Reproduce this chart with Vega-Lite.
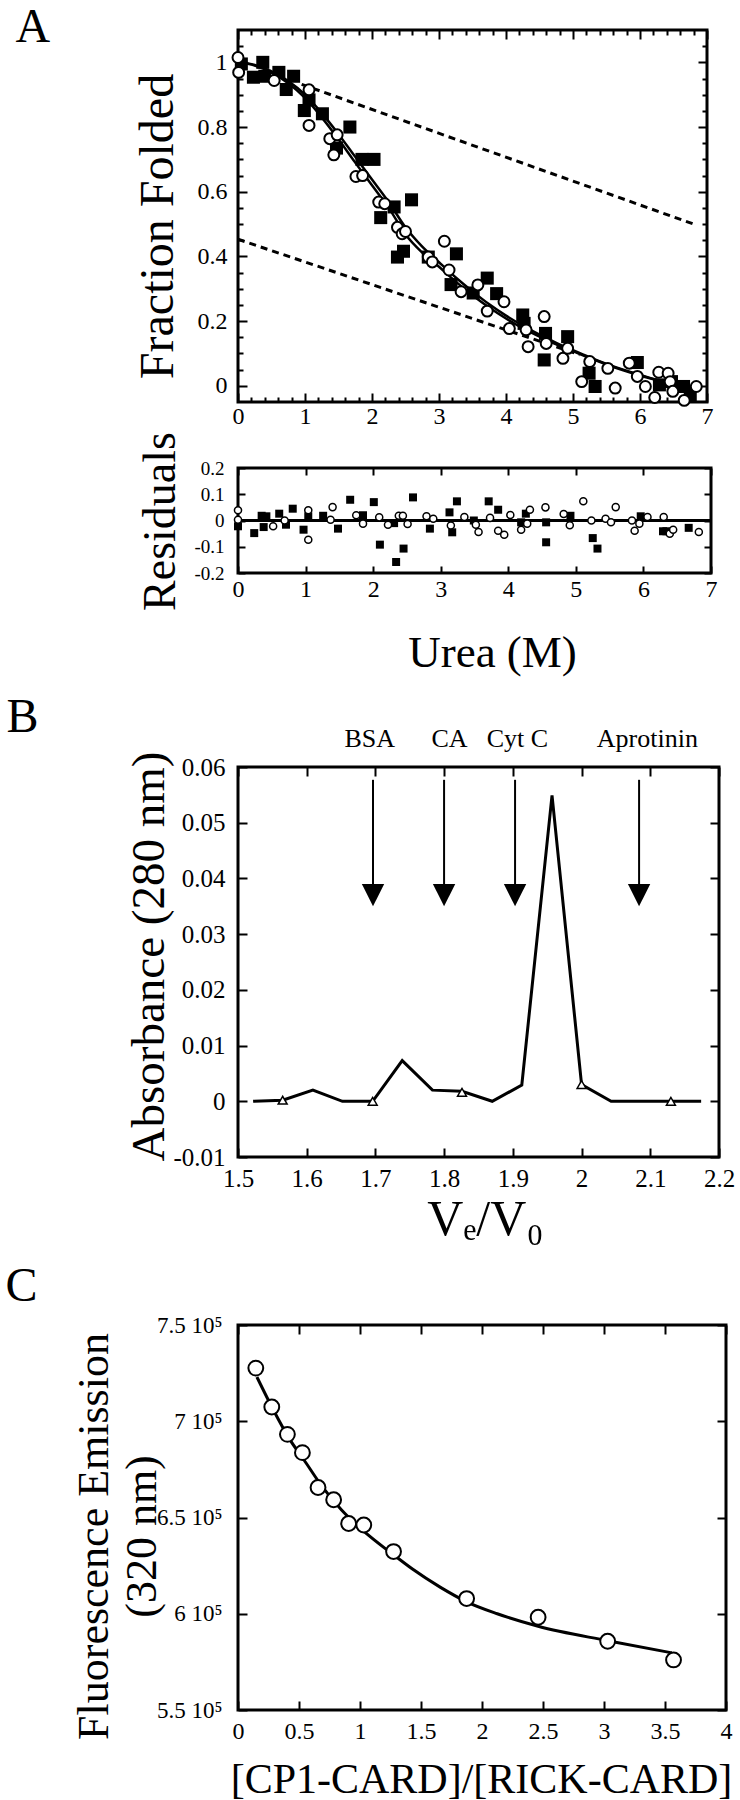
{
  "$schema": "https://vega.github.io/schema/vega-lite/v6.json",
  "background": "white",
  "padding": {"left": 3, "top": 1, "right": 4, "bottom": 0},
  "config": {
    "font": "Liberation Serif",
    "view": {"stroke": "black", "strokeWidth": 3},
    "axis": {
      "tickColor": "black", "tickWidth": 2, "tickOpacity": 1, "gridColor": "black", "gridWidth": 2, "gridOpacity": 1,
      "labelFont": "Liberation Serif", "labelColor": "black", "labelFontSize": 24, "labelOverlap": false, "labelFlush": false,
      "titleFont": "Liberation Serif", "titleFontWeight": "normal", "titleColor": "black"
    }
  },
  "datasets": {
    "a_base": [
      {"x": 0.95, "y": 0.932, "s": "u"}, {"x": 6.8, "y": 0.5, "s": "u"},
      {"x": 0, "y": 0.453, "s": "l"}, {"x": 5.1, "y": 0.096, "s": "l"}
    ],
    "a_fit": [
      {"x": 0, "y": 1.0, "s": "f1"}, {"x": 0.25, "y": 0.99, "s": "f1"}, {"x": 0.5, "y": 0.968, "s": "f1"}, {"x": 0.75, "y": 0.935, "s": "f1"},
      {"x": 1.0, "y": 0.89, "s": "f1"}, {"x": 1.25, "y": 0.83, "s": "f1"}, {"x": 1.5, "y": 0.762, "s": "f1"}, {"x": 1.75, "y": 0.69, "s": "f1"},
      {"x": 2.0, "y": 0.62, "s": "f1"}, {"x": 2.25, "y": 0.55, "s": "f1"}, {"x": 2.5, "y": 0.468, "s": "f1"}, {"x": 2.75, "y": 0.412, "s": "f1"},
      {"x": 3.0, "y": 0.368, "s": "f1"}, {"x": 3.25, "y": 0.322, "s": "f1"}, {"x": 3.5, "y": 0.28, "s": "f1"}, {"x": 3.75, "y": 0.242, "s": "f1"},
      {"x": 4.0, "y": 0.208, "s": "f1"}, {"x": 4.25, "y": 0.178, "s": "f1"}, {"x": 4.5, "y": 0.152, "s": "f1"}, {"x": 4.75, "y": 0.128, "s": "f1"},
      {"x": 5.0, "y": 0.107, "s": "f1"}, {"x": 5.25, "y": 0.086, "s": "f1"}, {"x": 5.5, "y": 0.066, "s": "f1"}, {"x": 5.75, "y": 0.048, "s": "f1"},
      {"x": 6.0, "y": 0.032, "s": "f1"}, {"x": 6.25, "y": 0.018, "s": "f1"}, {"x": 6.5, "y": 0.005, "s": "f1"}, {"x": 6.8, "y": -0.01, "s": "f1"},
      {"x": 0, "y": 1.0, "s": "f2"}, {"x": 0.25, "y": 0.992, "s": "f2"}, {"x": 0.5, "y": 0.972, "s": "f2"}, {"x": 0.75, "y": 0.942, "s": "f2"},
      {"x": 1.0, "y": 0.9, "s": "f2"}, {"x": 1.25, "y": 0.843, "s": "f2"}, {"x": 1.5, "y": 0.778, "s": "f2"}, {"x": 1.75, "y": 0.708, "s": "f2"},
      {"x": 2.0, "y": 0.638, "s": "f2"}, {"x": 2.25, "y": 0.568, "s": "f2"}, {"x": 2.5, "y": 0.49, "s": "f2"}, {"x": 2.75, "y": 0.43, "s": "f2"},
      {"x": 3.0, "y": 0.382, "s": "f2"}, {"x": 3.25, "y": 0.335, "s": "f2"}, {"x": 3.5, "y": 0.292, "s": "f2"}, {"x": 3.75, "y": 0.252, "s": "f2"},
      {"x": 4.0, "y": 0.217, "s": "f2"}, {"x": 4.25, "y": 0.186, "s": "f2"}, {"x": 4.5, "y": 0.158, "s": "f2"}, {"x": 4.75, "y": 0.133, "s": "f2"},
      {"x": 5.0, "y": 0.11, "s": "f2"}, {"x": 5.25, "y": 0.088, "s": "f2"}, {"x": 5.5, "y": 0.068, "s": "f2"}, {"x": 5.75, "y": 0.05, "s": "f2"},
      {"x": 6.0, "y": 0.034, "s": "f2"}, {"x": 6.25, "y": 0.019, "s": "f2"}, {"x": 6.5, "y": 0.006, "s": "f2"}, {"x": 6.8, "y": -0.008, "s": "f2"}
    ],
    "a_sq": [
      {"x": 0.05, "y": 0.995}, {"x": 0.23, "y": 0.954}, {"x": 0.37, "y": 1.0}, {"x": 0.4, "y": 0.957}, {"x": 0.61, "y": 0.969},
      {"x": 0.72, "y": 0.916}, {"x": 0.83, "y": 0.957}, {"x": 0.99, "y": 0.851}, {"x": 1.06, "y": 0.884}, {"x": 1.26, "y": 0.841},
      {"x": 1.47, "y": 0.735}, {"x": 1.67, "y": 0.8}, {"x": 1.85, "y": 0.7}, {"x": 2.03, "y": 0.7}, {"x": 2.13, "y": 0.52},
      {"x": 2.33, "y": 0.553}, {"x": 2.38, "y": 0.398}, {"x": 2.47, "y": 0.416}, {"x": 2.59, "y": 0.575}, {"x": 2.84, "y": 0.398},
      {"x": 3.18, "y": 0.313}, {"x": 3.26, "y": 0.408}, {"x": 3.51, "y": 0.287}, {"x": 3.72, "y": 0.333}, {"x": 3.86, "y": 0.285},
      {"x": 4.25, "y": 0.219}, {"x": 4.27, "y": 0.193}, {"x": 4.57, "y": 0.08}, {"x": 4.59, "y": 0.162}, {"x": 4.92, "y": 0.152},
      {"x": 5.24, "y": 0.039}, {"x": 5.33, "y": -0.002}, {"x": 5.96, "y": 0.072}, {"x": 6.29, "y": 0.003}, {"x": 6.47, "y": 0.013},
      {"x": 6.65, "y": -0.002}, {"x": 6.75, "y": -0.03}
    ],
    "a_ci": [
      {"x": 0.0, "y": 1.015}, {"x": 0.01, "y": 0.969}, {"x": 0.54, "y": 0.944}, {"x": 1.06, "y": 0.915}, {"x": 1.06, "y": 0.805},
      {"x": 1.37, "y": 0.764}, {"x": 1.43, "y": 0.714}, {"x": 1.48, "y": 0.776}, {"x": 1.76, "y": 0.647}, {"x": 1.86, "y": 0.65},
      {"x": 2.1, "y": 0.568}, {"x": 2.19, "y": 0.563}, {"x": 2.38, "y": 0.49}, {"x": 2.45, "y": 0.47}, {"x": 2.5, "y": 0.477},
      {"x": 2.84, "y": 0.398}, {"x": 2.9, "y": 0.383}, {"x": 3.08, "y": 0.447}, {"x": 3.15, "y": 0.358}, {"x": 3.33, "y": 0.291},
      {"x": 3.58, "y": 0.312}, {"x": 3.72, "y": 0.231}, {"x": 3.97, "y": 0.26}, {"x": 4.05, "y": 0.177}, {"x": 4.3, "y": 0.173},
      {"x": 4.33, "y": 0.121}, {"x": 4.57, "y": 0.214}, {"x": 4.6, "y": 0.131}, {"x": 4.85, "y": 0.085}, {"x": 4.92, "y": 0.116},
      {"x": 5.13, "y": 0.013}, {"x": 5.25, "y": 0.075}, {"x": 5.52, "y": 0.054}, {"x": 5.63, "y": -0.007}, {"x": 5.84, "y": 0.07},
      {"x": 5.96, "y": 0.029}, {"x": 6.08, "y": -0.002}, {"x": 6.22, "y": -0.036}, {"x": 6.28, "y": 0.042}, {"x": 6.42, "y": 0.039},
      {"x": 6.45, "y": 0.013}, {"x": 6.49, "y": -0.017}, {"x": 6.66, "y": -0.045}, {"x": 6.84, "y": -0.002}
    ],
    "r_sq": [
      {"x": 0.0, "y": -0.022}, {"x": 0.24, "y": -0.048}, {"x": 0.35, "y": 0.018}, {"x": 0.38, "y": -0.025}, {"x": 0.42, "y": 0.016},
      {"x": 0.61, "y": 0.026}, {"x": 0.71, "y": -0.016}, {"x": 0.81, "y": 0.045}, {"x": 0.97, "y": -0.035}, {"x": 1.04, "y": 0.016},
      {"x": 1.26, "y": 0.018}, {"x": 1.48, "y": -0.031}, {"x": 1.66, "y": 0.079}, {"x": 1.85, "y": 0.02}, {"x": 2.01, "y": 0.07},
      {"x": 2.1, "y": -0.092}, {"x": 2.31, "y": -0.01}, {"x": 2.34, "y": -0.158}, {"x": 2.45, "y": -0.107}, {"x": 2.59, "y": 0.088},
      {"x": 2.84, "y": -0.031}, {"x": 3.13, "y": 0.031}, {"x": 3.17, "y": -0.045}, {"x": 3.24, "y": 0.073}, {"x": 3.49, "y": 0.0},
      {"x": 3.71, "y": 0.073}, {"x": 3.85, "y": 0.041}, {"x": 4.19, "y": -0.007}, {"x": 4.26, "y": 0.026}, {"x": 4.56, "y": -0.007},
      {"x": 4.56, "y": -0.083}, {"x": 4.92, "y": 0.018}, {"x": 5.25, "y": -0.067}, {"x": 5.32, "y": -0.107}, {"x": 5.96, "y": 0.016},
      {"x": 6.29, "y": -0.041}, {"x": 6.34, "y": -0.041}, {"x": 6.67, "y": -0.028}
    ],
    "r_ci": [
      {"x": 0.0, "y": 0.039}, {"x": 0.0, "y": 0.003}, {"x": 0.52, "y": -0.022}, {"x": 0.69, "y": 0.0}, {"x": 1.04, "y": 0.039},
      {"x": 1.04, "y": -0.073}, {"x": 1.4, "y": 0.051}, {"x": 1.37, "y": 0.003}, {"x": 1.75, "y": 0.02}, {"x": 1.85, "y": -0.012},
      {"x": 2.09, "y": 0.012}, {"x": 2.22, "y": -0.016}, {"x": 2.38, "y": 0.018}, {"x": 2.44, "y": 0.018}, {"x": 2.51, "y": -0.013},
      {"x": 2.79, "y": 0.016}, {"x": 2.89, "y": 0.007}, {"x": 3.15, "y": -0.019}, {"x": 3.35, "y": 0.013}, {"x": 3.52, "y": -0.016},
      {"x": 3.56, "y": -0.044}, {"x": 3.73, "y": 0.01}, {"x": 3.85, "y": -0.039}, {"x": 3.94, "y": -0.054}, {"x": 4.03, "y": 0.021},
      {"x": 4.19, "y": -0.035}, {"x": 4.28, "y": -0.012}, {"x": 4.32, "y": 0.041}, {"x": 4.55, "y": 0.05}, {"x": 4.82, "y": 0.025},
      {"x": 4.91, "y": -0.018}, {"x": 5.11, "y": 0.073}, {"x": 5.23, "y": 0.0}, {"x": 5.44, "y": 0.007}, {"x": 5.52, "y": -0.007},
      {"x": 5.59, "y": 0.051}, {"x": 5.83, "y": 0.0}, {"x": 5.87, "y": -0.039}, {"x": 5.94, "y": -0.012}, {"x": 6.06, "y": 0.013},
      {"x": 6.3, "y": 0.013}, {"x": 6.39, "y": -0.05}, {"x": 6.44, "y": -0.035}, {"x": 6.82, "y": -0.044}
    ],
    "b_tr": [
      {"x": 1.522, "y": 0}, {"x": 1.565, "y": 0.0002}, {"x": 1.609, "y": 0.002}, {"x": 1.652, "y": 0}, {"x": 1.696, "y": 0},
      {"x": 1.739, "y": 0.0073}, {"x": 1.783, "y": 0.002}, {"x": 1.826, "y": 0.0018}, {"x": 1.87, "y": 0}, {"x": 1.913, "y": 0.0029},
      {"x": 1.957, "y": 0.0549}, {"x": 2.0, "y": 0.003}, {"x": 2.043, "y": 0}, {"x": 2.087, "y": 0}, {"x": 2.13, "y": 0}, {"x": 2.174, "y": 0}
    ],
    "b_tri": [
      {"x": 1.565, "y": 0.0002}, {"x": 1.696, "y": 0}, {"x": 1.826, "y": 0.0016}, {"x": 2.0, "y": 0.003}, {"x": 2.13, "y": 0}
    ],
    "b_arr": [
      {"x": 1.6965, "y": 0.0577, "y2": 0.039, "h": 0.037},
      {"x": 1.7999, "y": 0.0577, "y2": 0.039, "h": 0.037},
      {"x": 1.9032, "y": 0.0577, "y2": 0.039, "h": 0.037},
      {"x": 2.0837, "y": 0.0577, "y2": 0.039, "h": 0.037}
    ],
    "c_pt": [
      {"x": 0.146, "y": 727600}, {"x": 0.277, "y": 707400}, {"x": 0.405, "y": 693200}, {"x": 0.528, "y": 683700},
      {"x": 0.656, "y": 665600}, {"x": 0.784, "y": 659200}, {"x": 0.907, "y": 646900}, {"x": 1.031, "y": 646100},
      {"x": 1.275, "y": 632300}, {"x": 1.874, "y": 607900}, {"x": 2.46, "y": 598200}, {"x": 3.03, "y": 585700}, {"x": 3.57, "y": 576000}
    ],
    "c_fit": [
      {"x": 0.155, "y": 723000}, {"x": 0.289, "y": 706000}, {"x": 0.424, "y": 690600}, {"x": 0.54, "y": 680000},
      {"x": 0.695, "y": 665600}, {"x": 0.849, "y": 653900}, {"x": 1.023, "y": 643300}, {"x": 1.275, "y": 630600},
      {"x": 1.43, "y": 623200}, {"x": 1.66, "y": 613700}, {"x": 1.874, "y": 606200}, {"x": 2.125, "y": 600000},
      {"x": 2.46, "y": 593500}, {"x": 3.03, "y": 586000}, {"x": 3.556, "y": 579700}
    ]
  },
  "spacing": 14,
  "vconcat": [
    {
      "spacing": 0,
      "vconcat": [
        {
          "width": 469, "height": 372,
          "resolve": {"axis": {"x": "independent", "y": "independent"}},
          "layer": [
            {
              "data": {"name": "a_base"},
              "mark": {"type": "line", "strokeDash": [7, 5], "strokeWidth": 3, "color": "black"},
              "encoding": {
                "x": {"field": "x", "type": "quantitative", "scale": {"domain": [0, 7], "nice": false, "zero": false},
                  "axis": {"orient": "bottom", "title": null, "domain": false, "ticks": true, "tickSize": -9, "tickColor": "black", "tickOpacity": 1, "tickWidth": 2, "grid": false,
                    "labelPadding": 11, "labelOverlap": false, "labelFlush": false,
                    "values": [0,1,2,3,4,5,6,7], "labelExpr": "format(datum.value, '~g')"}},
                "y": {"field": "y", "type": "quantitative", "scale": {"domain": [-0.05, 1.1], "nice": false, "zero": false},
                  "axis": {"orient": "left", "title": "Fraction Folded", "titleFontSize": 48, "titleAngle": -90, "titleAlign": "center", "titleBaseline": "middle", "titleX": -80, "titleY": 196,
                    "domain": false, "ticks": true, "tickSize": -9, "tickColor": "black", "tickOpacity": 1, "tickWidth": 2, "grid": false,
                    "labelPadding": 20, "labelOverlap": false,
                    "values": [0,0.2,0.4,0.6,0.8,1], "labelExpr": "format(datum.value, '~g')"}},
                "detail": {"field": "s"}
              }
            },
            {
              "data": {"name": "a_fit"},
              "mark": {"type": "line", "strokeWidth": 2.5, "color": "black", "interpolate": "monotone"},
              "encoding": {
                "x": {"field": "x", "type": "quantitative",
                  "axis": {"orient": "top", "title": "A", "titleFontSize": 48, "titleAngle": 0, "titleAlign": "left", "titleBaseline": "alphabetic", "titleX": -223, "titleY": 11,
                    "labels": false, "domain": false, "grid": false, "ticks": true, "tickSize": -9, "tickColor": "black", "tickOpacity": 1, "tickWidth": 2, "values": [0,1,2,3,4,5,6,7]}},
                "y": {"field": "y", "type": "quantitative",
                  "axis": {"orient": "right", "title": null, "labels": false, "domain": false, "grid": false, "ticks": true, "tickSize": -9, "tickColor": "black", "tickOpacity": 1, "tickWidth": 2, "values": [0,0.2,0.4,0.6,0.8,1]}},
                "detail": {"field": "s"}
              }
            },
            {
              "data": {"name": "a_sq"},
              "mark": {"type": "point", "shape": "square", "filled": true, "color": "black", "size": 170, "opacity": 1},
              "encoding": {
                "x": {"field": "x", "type": "quantitative",
                  "axis": {"orient": "top", "title": null, "labels": false, "domain": false, "ticks": false, "grid": true, "gridColor": "black", "gridOpacity": 1, "gridWidth": 2, "gridDash": [5, 362, 5, 2000],
                    "values": [0.2,0.4,0.6,0.8,1.2,1.4,1.6,1.8,2.2,2.4,2.6,2.8,3.2,3.4,3.6,3.8,4.2,4.4,4.6,4.8,5.2,5.4,5.6,5.8,6.2,6.4,6.6,6.8]}},
                "y": {"field": "y", "type": "quantitative",
                  "axis": {"orient": "right", "title": null, "labels": false, "domain": false, "ticks": false, "grid": true, "gridColor": "black", "gridOpacity": 1, "gridWidth": 2, "gridDash": [5, 459, 5, 2000],
                    "values": [0.05,0.1,0.15,0.25,0.3,0.35,0.45,0.5,0.55,0.65,0.7,0.75,0.85,0.9,0.95,1.05]}}
              }
            },
            {
              "data": {"name": "a_ci"},
              "mark": {"type": "point", "shape": "circle", "filled": true, "fill": "white", "stroke": "black", "strokeWidth": 2, "size": 120, "opacity": 1},
              "encoding": {
                "x": {"field": "x", "type": "quantitative", "axis": null},
                "y": {"field": "y", "type": "quantitative", "axis": null}
              }
            }
          ]
        },
        {
          "width": 473, "height": 105,
          "resolve": {"axis": {"x": "independent", "y": "independent"}},
          "layer": [
            {
              "data": {"name": "r_sq"},
              "mark": {"type": "rule", "strokeWidth": 2.5, "color": "black"},
              "encoding": {
                "y": {"datum": 0, "type": "quantitative", "axis": null}
              }
            },
            {
              "data": {"name": "r_sq"},
              "mark": {"type": "point", "shape": "square", "filled": true, "color": "black", "size": 64, "opacity": 1},
              "encoding": {
                "x": {"field": "x", "type": "quantitative", "scale": {"domain": [0, 7], "nice": false, "zero": false},
                  "axis": {"orient": "bottom", "title": "Urea (M)", "titleFontSize": 45, "titleAngle": 0, "titleAlign": "center", "titleBaseline": "alphabetic", "titleX": 254, "titleY": 93,
                    "domain": false, "ticks": true, "tickSize": -7, "tickColor": "black", "tickOpacity": 1, "tickWidth": 2, "grid": false,
                    "labelPadding": 11, "labelOverlap": false, "labelFlush": false,
                    "values": [0,1,2,3,4,5,6,7], "labelExpr": "format(datum.value, '~g')"}},
                "y": {"field": "y", "type": "quantitative", "scale": {"domain": [-0.2, 0.2], "nice": false, "zero": false},
                  "axis": {"orient": "left", "title": "Residuals", "titleFontSize": 46, "titleAngle": -90, "titleAlign": "center", "titleBaseline": "middle", "titleX": -78, "titleY": 53,
                    "domain": false, "ticks": true, "tickSize": -7, "tickColor": "black", "tickOpacity": 1, "tickWidth": 2, "grid": false,
                    "labelPadding": 21, "labelFontSize": 19, "labelOverlap": false,
                    "values": [-0.2,-0.1,0,0.1,0.2], "labelExpr": "replace(format(datum.value, '~g'), '−', '-')"}}
              }
            },
            {
              "data": {"name": "r_ci"},
              "mark": {"type": "point", "shape": "circle", "filled": true, "fill": "white", "stroke": "black", "strokeWidth": 1.5, "size": 50, "opacity": 1},
              "encoding": {
                "x": {"field": "x", "type": "quantitative",
                  "axis": {"orient": "top", "title": "A", "titleColor": "transparent", "titleFontSize": 10, "titleAngle": 0, "titleAlign": "left", "titleBaseline": "alphabetic", "titleX": -221, "titleY": 50,
                    "labels": false, "domain": false, "grid": false, "ticks": true, "tickSize": -7, "tickColor": "black", "tickOpacity": 1, "tickWidth": 2, "values": [0,1,2,3,4,5,6,7]}},
                "y": {"field": "y", "type": "quantitative",
                  "axis": {"orient": "right", "title": null, "labels": false, "domain": false, "grid": false, "ticks": true, "tickSize": -7, "tickColor": "black", "tickOpacity": 1, "tickWidth": 2, "values": [-0.2,-0.1,0,0.1,0.2]}}
              }
            }
          ]
        }
      ]
    },
    {
      "width": 481, "height": 390,
      "resolve": {"axis": {"x": "independent", "y": "independent"}},
      "layer": [
        {
          "data": {"name": "b_tr"},
          "mark": {"type": "line", "strokeWidth": 3, "color": "black"},
          "encoding": {
            "x": {"field": "x", "type": "quantitative", "scale": {"domain": [1.5, 2.2], "nice": false, "zero": false},
              "axis": {"orient": "bottom", "title": "Vₑ/V₀", "titleFontSize": 50, "titleAngle": 0, "titleAlign": "center", "titleBaseline": "alphabetic", "titleX": 247, "titleY": 77,
                "domain": false, "ticks": true, "tickSize": -9, "tickColor": "black", "tickOpacity": 1, "tickWidth": 2, "grid": false,
                "labelPadding": 18, "labelFontSize": 25, "labelOverlap": false, "labelFlush": false,
                "values": [1.5,1.6,1.7,1.8,1.9,2,2.1,2.2], "labelExpr": "format(datum.value, '~g')"}},
            "y": {"field": "y", "type": "quantitative", "scale": {"domain": [-0.01, 0.06], "nice": false, "zero": false},
              "axis": {"orient": "left", "title": "Absorbance (280 nm)", "titleFontSize": 47, "titleAngle": -90, "titleAlign": "center", "titleBaseline": "middle", "titleX": -89, "titleY": 189,
                "domain": false, "ticks": true, "tickSize": -9, "tickColor": "black", "tickOpacity": 1, "tickWidth": 2, "grid": false,
                "labelPadding": 22, "labelFontSize": 25, "labelOverlap": false,
                "values": [-0.01,0,0.01,0.02,0.03,0.04,0.05,0.06], "labelExpr": "replace(format(datum.value, '~g'), '−', '-')"}}
          }
        },
        {
          "data": {"name": "b_tri"},
          "mark": {"type": "point", "shape": "triangle-up", "filled": true, "fill": "white", "stroke": "black", "strokeWidth": 1.5, "size": 80, "opacity": 1},
          "encoding": {
            "x": {"field": "x", "type": "quantitative",
              "axis": {"orient": "top", "title": null, "labels": false, "domain": false, "grid": false, "ticks": true, "tickSize": -9, "tickColor": "black", "tickOpacity": 1, "tickWidth": 2,
                "values": [1.5,1.6,1.7,1.8,1.9,2,2.1,2.2]}},
            "y": {"field": "y", "type": "quantitative",
              "axis": {"orient": "right", "title": null, "labels": false, "domain": false, "grid": false, "ticks": true, "tickSize": -9, "tickColor": "black", "tickOpacity": 1, "tickWidth": 2,
                "values": [-0.01,0,0.01,0.02,0.03,0.04,0.05,0.06]}}
          }
        },
        {
          "data": {"name": "b_arr"},
          "mark": {"type": "rule", "strokeWidth": 2, "color": "black"},
          "encoding": {
            "x": {"field": "x", "type": "quantitative",
              "axis": {"orient": "top", "title": "B", "titleFontSize": 48, "titleAngle": 0, "titleAlign": "left", "titleBaseline": "alphabetic", "titleX": -232, "titleY": -36,
                "domain": false, "ticks": false, "grid": false, "labelPadding": 16, "labelFontSize": 26, "labelOverlap": false, "labelFlush": false,
                "values": [1.691, 1.807, 1.906, 2.095],
                "labelExpr": "datum.value < 1.75 ? 'BSA' : datum.value < 1.85 ? 'CA' : datum.value < 2 ? 'Cyt C' : 'Aprotinin'"}},
            "y": {"field": "y", "type": "quantitative", "axis": null},
            "y2": {"field": "y2"}
          }
        },
        {
          "data": {"name": "b_arr"},
          "mark": {"type": "point", "shape": "M-1,-1L1,-1L0,1Z", "filled": true, "color": "black", "size": 500, "opacity": 1},
          "encoding": {
            "x": {"field": "x", "type": "quantitative", "axis": null},
            "y": {"field": "h", "type": "quantitative", "axis": null}
          }
        }
      ]
    },
    {
      "width": 488, "height": 385,
      "resolve": {"axis": {"x": "independent", "y": "independent"}},
      "layer": [
        {
          "data": {"name": "c_fit"},
          "mark": {"type": "line", "strokeWidth": 3, "color": "black", "interpolate": "monotone"},
          "encoding": {
            "x": {"field": "x", "type": "quantitative", "scale": {"domain": [0, 4], "nice": false, "zero": false},
              "axis": {"orient": "bottom", "title": "[CP1-CARD]/[RICK-CARD]", "titleFontSize": 42, "titleAngle": 0, "titleAlign": "center", "titleBaseline": "alphabetic", "titleX": 243, "titleY": 82,
                "domain": false, "ticks": true, "tickSize": -9, "tickColor": "black", "tickOpacity": 1, "tickWidth": 2, "grid": false,
                "labelPadding": 18, "labelOverlap": false, "labelFlush": false,
                "values": [0,0.5,1,1.5,2,2.5,3,3.5,4], "labelExpr": "format(datum.value, '~g')"}},
            "y": {"field": "y", "type": "quantitative", "scale": {"domain": [550000, 750000], "nice": false, "zero": false},
              "axis": {"orient": "left", "title": ["Fluorescence Emission", "(320 nm)"], "titleFontSize": 44, "titleLineHeight": 48, "titleAngle": -90, "titleAlign": "center", "titleBaseline": "middle", "titleX": -144, "titleY": 211,
                "domain": false, "ticks": true, "tickSize": -9, "tickColor": "black", "tickOpacity": 1, "tickWidth": 2, "grid": false,
                "labelPadding": 25, "labelFontSize": 23, "labelOverlap": false,
                "values": [550000,600000,650000,700000,750000], "labelExpr": "format(datum.value/100000, '~g') + ' 10⁵'"}}
          }
        },
        {
          "data": {"name": "c_pt"},
          "mark": {"type": "point", "shape": "circle", "filled": true, "fill": "white", "stroke": "black", "strokeWidth": 2, "size": 220, "opacity": 1},
          "encoding": {
            "x": {"field": "x", "type": "quantitative",
              "axis": {"orient": "top", "title": "C", "titleFontSize": 48, "titleAngle": 0, "titleAlign": "left", "titleBaseline": "alphabetic", "titleX": -233, "titleY": -25,
                "labels": false, "domain": false, "grid": false, "ticks": true, "tickSize": -9, "tickColor": "black", "tickOpacity": 1, "tickWidth": 2, "values": [0,0.5,1,1.5,2,2.5,3,3.5,4]}},
            "y": {"field": "y", "type": "quantitative",
              "axis": {"orient": "right", "title": null, "labels": false, "domain": false, "grid": false, "ticks": true, "tickSize": -9, "tickColor": "black", "tickOpacity": 1, "tickWidth": 2, "values": [550000,600000,650000,700000,750000]}}
          }
        }
      ]
    }
  ]
}
